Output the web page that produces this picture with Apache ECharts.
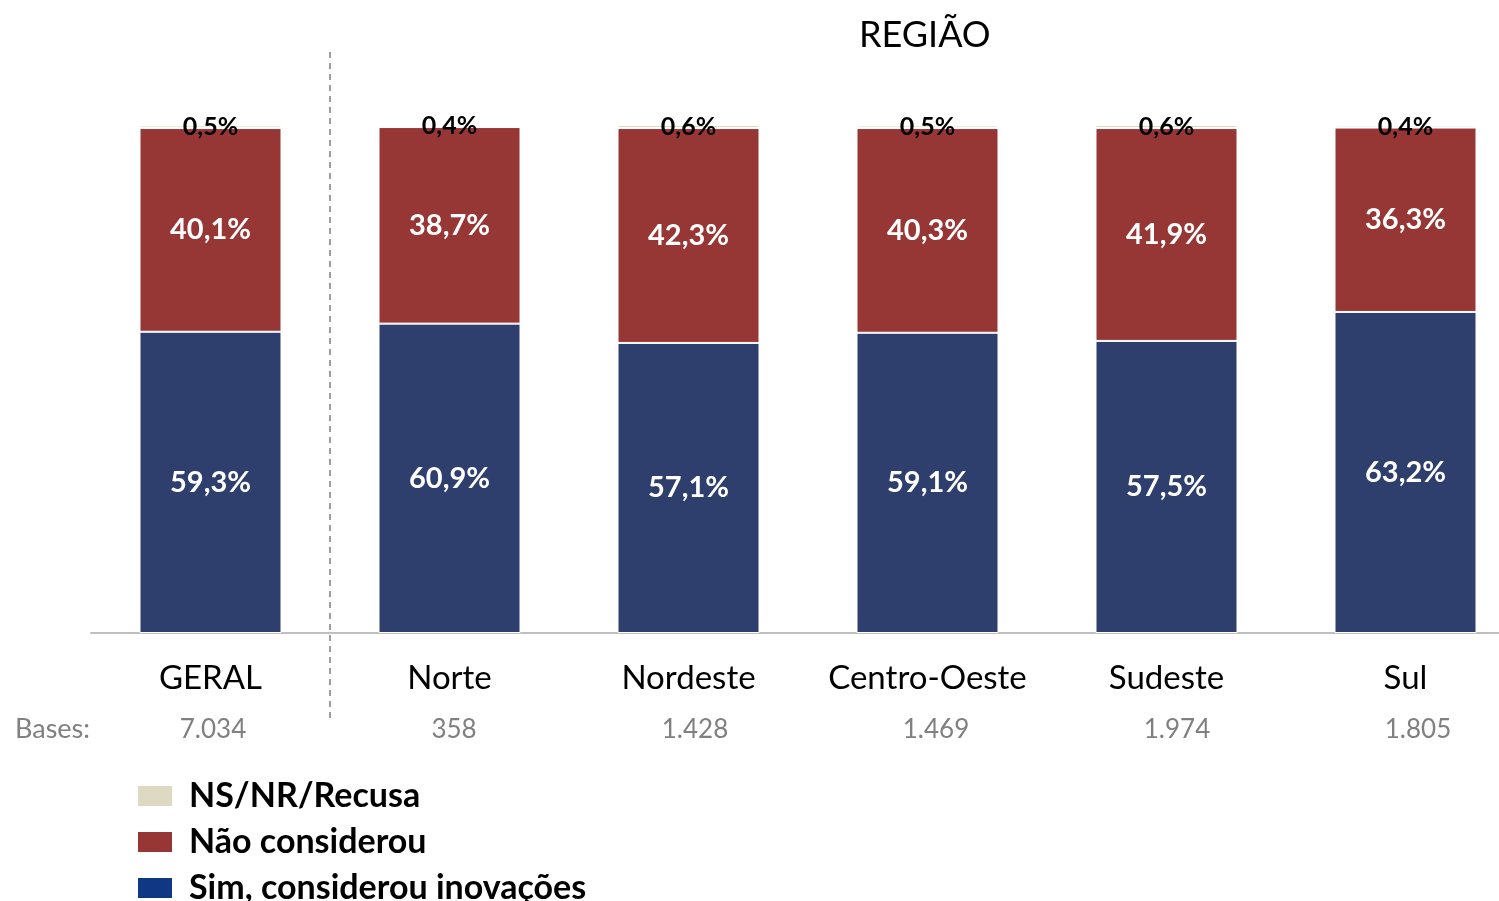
<!DOCTYPE html>
<html>
<head>
<meta charset="utf-8">
<script src="https://cdn.jsdelivr.net/npm/echarts@6/dist/echarts.min.js"></script>
<style>
  html, body { margin: 0; padding: 0; background: #fff; overflow: hidden; }
  #chart { width: 1540px; height: 940px; }
</style>
</head>
<body>
<div id="chart"></div>
<script>
const categories = ['GERAL', 'Norte', 'Nordeste', 'Centro-Oeste', 'Sudeste', 'Sul'];
const bases = ['7.034', '358', '1.428', '1.469', '1.974', '1.805'];
const sim = [59.3, 60.9, 57.1, 59.1, 57.5, 63.2];
const nao = [40.1, 38.7, 42.3, 40.3, 41.9, 36.3];
const nsnr = [0.5, 0.4, 0.6, 0.5, 0.6, 0.4];

const FONT = 'Lato';
const fmt = p => p.value.toFixed(1).replace('.', ',') + '%';

const chart = echarts.init(document.getElementById('chart'));

function seg(name, data, color, labelColor, labelSize) {
  return {
    name: name,
    type: 'bar',
    stack: 'total',
    barWidth: 142,
    data: data,
    itemStyle: { color: color, borderColor: '#fff', borderWidth: 1 },
    label: {
      show: true,
      position: 'inside',
      formatter: fmt,
      color: labelColor,
      fontFamily: FONT,
      fontWeight: 'bold',
      fontSize: labelSize
    }
  };
}

chart.setOption({
  animation: false,
  title: {
    text: 'REGIÃO',
    left: 854,
    top: 12,
    textStyle: { fontFamily: FONT, fontWeight: 'normal', fontSize: 36, color: '#000' }
  },
  legend: {
    orient: 'vertical',
    left: 131,
    top: 774,
    itemWidth: 36,
    itemHeight: 22,
    itemGap: 12,
    icon: 'rect',
    textStyle: {
      fontFamily: FONT, fontWeight: 'bold', fontSize: 34, lineHeight: 31,
      color: '#000', padding: [0, 0, 0, 11]
    },
    data: [
      { name: 'NS/NR/Recusa', itemStyle: { color: '#DDD9C3' } },
      { name: 'Não considerou', itemStyle: { color: '#963735' } },
      { name: 'Sim, considerou inovações', itemStyle: { color: '#0F3783' } }
    ]
  },
  grid: [
    { left: 91, width: 1434, top: 125, height: 508 },
    { left: 92.5, width: 1446, top: 125, height: 508 }
  ],
  xAxis: [
    {
      type: 'category',
      data: categories,
      gridIndex: 0,
      axisLine: { lineStyle: { color: '#BFBFBF', width: 2 } },
      axisTick: { show: false },
      axisLabel: { interval: 0, margin: 29, fontFamily: FONT, fontSize: 33, color: '#000' }
    },
    {
      type: 'category',
      data: bases,
      gridIndex: 1,
      axisLine: { show: false },
      axisTick: { show: false },
      axisLabel: { interval: 0, margin: 84, fontFamily: FONT, fontSize: 26, color: '#808080' }
    }
  ],
  yAxis: [
    { type: 'value', min: 0, max: 100, show: false, gridIndex: 0 },
    { type: 'value', min: 0, max: 100, show: false, gridIndex: 1 }
  ],
  graphic: [
    {
      type: 'line',
      shape: { x1: 330, y1: 52, x2: 330, y2: 722 },
      style: { stroke: '#808080', lineWidth: 1.5, lineDash: [6, 5] },
      z: 10
    },
    {
      type: 'text',
      left: 15,
      top: 716,
      style: { text: 'Bases:', fontFamily: FONT, fontSize: 27, fill: '#808080' }
    }
  ],
  series: [
    seg('Sim, considerou inovações', sim, '#2E3F6D', '#fff', 29),
    seg('Não considerou', nao, '#963735', '#fff', 29),
    seg('NS/NR/Recusa', nsnr, '#DDD9C3', '#000', 25)
  ]
});
</script>
</body>
</html>
